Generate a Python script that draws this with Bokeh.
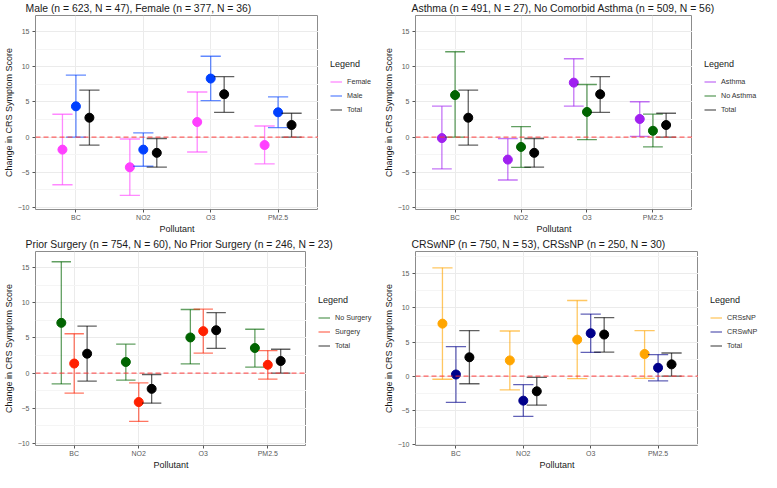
from bokeh.plotting import figure
from bokeh.models import (Range1d, FixedTicker, SingleIntervalTicker, Legend, LegendItem,
                          Span, ColumnDataSource, Label)
from bokeh.layouts import column, row
from bokeh.embed import file_html
from bokeh.resources import INLINE

pollutants = ["BC", "NO2", "O3", "PM2.5"]

total_est = [2.76, -2.24, 6.1, 1.72]
total_lo = [-1.13, -4.28, 3.53, 0.0]
total_hi = [6.69, -0.2, 8.6, 3.39]

female_est = [-1.78, -4.29, 2.15, -1.13]
female_lo = [-6.78, -8.28, -2.12, -3.8]
female_hi = [3.25, -0.27, 6.42, 1.58]
male_est = [4.38, -1.78, 8.33, 3.53]
male_lo = [0.0, -4.15, 5.2, 1.36]
male_hi = [8.82, 0.59, 11.5, 5.72]

asthma_est = [-0.14, -3.2, 7.75, 2.58]
asthma_lo = [-4.53, -6.1, 4.4, 0.1]
asthma_hi = [4.4, -0.23, 11.15, 5.03]
noasthma_est = [5.98, -1.4, 3.58, 0.9]
noasthma_lo = [0.0, -4.3, -0.36, -1.4]
noasthma_hi = [12.14, 1.5, 7.48, 3.26]

nosurg_est = [7.15, 1.58, 5.07, 3.57]
nosurg_lo = [-1.54, -1.0, 1.31, 0.86]
nosurg_hi = [15.84, 4.12, 9.05, 6.24]
surg_est = [1.36, -4.12, 5.97, 1.18]
surg_lo = [-2.85, -6.88, 2.85, -0.86]
surg_hi = [5.6, -1.4, 9.1, 3.2]

crssnp_est = [7.7, 2.3, 5.35, 3.24]
crssnp_lo = [-0.47, -2.02, -0.38, -0.33]
crssnp_hi = [15.9, 6.62, 11.1, 6.67]
crswnp_est = [0.23, -3.61, 6.29, 1.22]
crswnp_lo = [-3.85, -5.92, 3.47, -0.7]
crswnp_hi = [4.32, -1.27, 9.1, 3.15]

FONT = "Liberation Sans"
BAR_ALPHA = 0.62
LW = 1.3
W, H = 380, 236
TITLE_H = 15


def blank_fig(width, height):
    f = figure(width=width, height=height, output_backend="svg", toolbar_location=None,
               title=None, x_range=Range1d(0, 1), y_range=Range1d(0, 1),
               x_axis_location=None, y_axis_location=None,
               min_border_left=0, min_border_right=0, min_border_top=0, min_border_bottom=0)
    f.grid.visible = False
    f.outline_line_color = None
    f.background_fill_color = "white"
    f.border_fill_color = "white"
    return f


def make_panel(title, groups, y_start, y_end, left, main_w):
    # title strip
    tf = blank_fig(W, TITLE_H)
    tf.add_layout(Label(x=left, y=7, x_units="screen", y_units="screen", text=title,
                        text_font=FONT, text_font_size="10.4px", text_color="#1a1a1a",
                        text_baseline="middle"))

    ph = H - TITLE_H
    p = figure(width=main_w, height=ph, output_backend="svg", toolbar_location=None,
               title=None, x_range=Range1d(0.4, 4.6), y_range=Range1d(y_start, y_end),
               min_border_left=left, min_border_right=0,
               min_border_top=0, min_border_bottom=0)
    p.background_fill_color = "white"
    p.border_fill_color = "white"
    p.outline_line_color = "#8c8c8c"
    p.outline_line_width = 1

    xt = FixedTicker(ticks=[1, 2, 3, 4])
    yt = SingleIntervalTicker(interval=5, num_minor_ticks=2)
    p.xaxis.ticker = xt
    p.xgrid.ticker = xt
    p.yaxis.ticker = yt
    p.ygrid.ticker = yt
    p.xaxis.major_label_overrides = {i + 1: name for i, name in enumerate(pollutants)}
    p.xgrid.grid_line_color = "#ebebeb"
    p.ygrid.grid_line_color = "#ebebeb"
    p.ygrid.minor_grid_line_color = "#f5f5f5"

    for ax in (p.xaxis[0], p.yaxis[0]):
        ax.axis_line_color = None
        ax.major_tick_line_color = "#555555"
        ax.major_tick_out = 3
        ax.major_tick_in = 0
        ax.minor_tick_line_color = None
        ax.major_label_text_font = FONT
        ax.major_label_text_font_size = "7px"
        ax.major_label_text_color = "#5a5a5a"
        ax.axis_label_text_font = FONT
        ax.axis_label_text_font_size = "9px"
        ax.axis_label_text_font_style = "normal"
        ax.axis_label_text_color = "#1a1a1a"
        ax.major_label_standoff = 2
        ax.axis_label_standoff = 1
    p.xaxis.major_label_standoff = 1
    p.xaxis.axis_label_standoff = 0
    p.xaxis.axis_label = "Pollutant"
    p.yaxis.axis_label = "Change in CRS Symptom Score"

    zero = Span(location=0, dimension="width", line_color="#ff3030", line_alpha=0.75,
                line_dash="5 3", line_width=1.3)
    p.add_layout(zero)

    lg = blank_fig(W - main_w, ph)

    offsets = [-0.2, 0.0, 0.2]
    items = []
    for (name, color, est, lo, hi), off in zip(groups, offsets):
        xs = [i + 1 + off for i in range(len(pollutants))]
        src = ColumnDataSource(dict(x=xs, est=est, lo=lo, hi=hi,
                                    xl=[x - 0.15 for x in xs], xr=[x + 0.15 for x in xs]))
        p.segment(x0="x", y0="lo", x1="x", y1="hi", source=src, line_color=color,
                  line_alpha=BAR_ALPHA, line_width=LW)
        p.segment(x0="xl", y0="lo", x1="xr", y1="lo", source=src, line_color=color,
                  line_alpha=BAR_ALPHA, line_width=LW)
        p.segment(x0="xl", y0="hi", x1="xr", y1="hi", source=src, line_color=color,
                  line_alpha=BAR_ALPHA, line_width=LW)
        p.scatter(x="x", y="est", source=src, size=9, fill_color=color, line_color=color)
        # legend key renderer (holds no visible data)
        key = lg.line(x=[float("nan")], y=[float("nan")], line_color=color,
                      line_alpha=BAR_ALPHA, line_width=LW)
        items.append(LegendItem(label=name, renderers=[key]))

    legend = Legend(items=items, title="Legend", location=(12, 93))
    legend.title_text_font = FONT
    legend.title_text_font_size = "9px"
    legend.title_text_font_style = "normal"
    legend.title_text_color = "#1a1a1a"
    legend.title_standoff = 6
    legend.label_text_font = FONT
    legend.label_text_font_size = "7.2px"
    legend.label_text_color = "#333333"
    legend.glyph_width = 12
    legend.glyph_height = 13
    legend.label_height = 13
    legend.label_standoff = 5
    legend.spacing = 1
    legend.padding = 3
    legend.margin = 0
    legend.border_line_color = None
    legend.background_fill_alpha = 0
    lg.add_layout(legend)
    return column(tf, row(p, lg))


p1 = make_panel("Male (n = 623, N = 47), Female (n = 377, N = 36)",
                [("Female", "#ff40ff", female_est, female_lo, female_hi),
                 ("Male", "#0040ff", male_est, male_lo, male_hi),
                 ("Total", "black", total_est, total_lo, total_hi)], -10.3, 17.3, 25, 318)
p2 = make_panel("Asthma (n = 491, N = 27), No Comorbid Asthma (n = 509, N = 56)",
                [("Asthma", "#a020f0", asthma_est, asthma_lo, asthma_hi),
                 ("No Asthma", "#006400", noasthma_est, noasthma_lo, noasthma_hi),
                 ("Total", "black", total_est, total_lo, total_hi)], -10.3, 17.3, 31, 312)
p3 = make_panel("Prior Surgery (n = 754, N = 60), No Prior Surgery (n = 246, N = 23)",
                [("No Surgery", "#006400", nosurg_est, nosurg_lo, nosurg_hi),
                 ("Surgery", "#ff2000", surg_est, surg_lo, surg_hi),
                 ("Total", "black", total_est, total_lo, total_hi)], -10.3, 17.3, 25, 306)
p4 = make_panel("CRSwNP (n = 750, N = 53), CRSsNP (n = 250, N = 30)",
                [("CRSsNP", "#ffa500", crssnp_est, crssnp_lo, crssnp_hi),
                 ("CRSwNP", "#00008b", crswnp_est, crswnp_lo, crswnp_hi),
                 ("Total", "black", total_est, total_lo, total_hi)], -10.2, 18.3, 31, 318)

layout = column(row(p1, p2), row(p3, p4))
open("out.html", "w").write(file_html(layout, INLINE))
